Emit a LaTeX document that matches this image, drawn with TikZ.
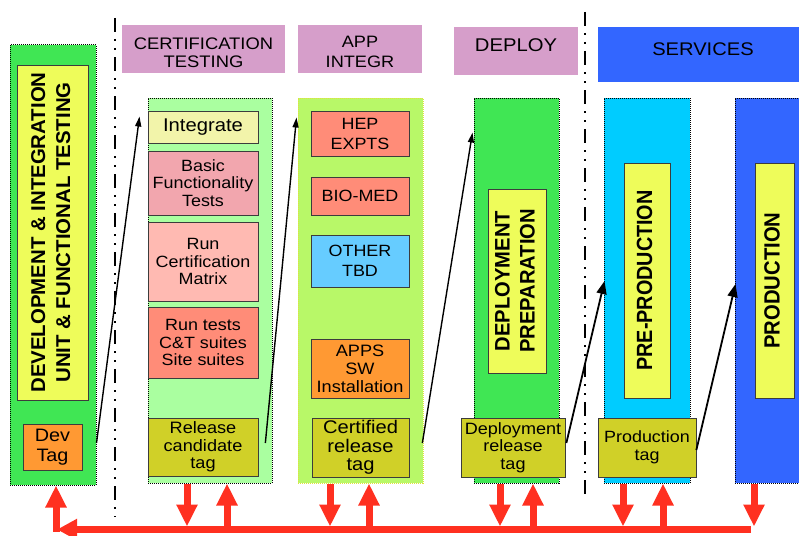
\documentclass[tikz,border=0pt]{standalone}
\usepackage{graphicx}
\usepackage{fontspec}
\setmainfont{Liberation Sans}[FakeStretch=1.1]
\newfontfamily\upfont{Liberation Sans}
\usetikzlibrary{arrows.meta}

\definecolor{devgreen}{RGB}{64,230,84}
\definecolor{paleyellow}{RGB}{238,252,90}
\definecolor{tagorange}{RGB}{255,153,51}
\definecolor{certgreen}{RGB}{170,255,160}
\definecolor{intyellow}{RGB}{242,244,170}
\definecolor{basicpink}{RGB}{242,166,174}
\definecolor{matrixpink}{RGB}{255,186,178}
\definecolor{salmon}{RGB}{255,140,120}
\definecolor{tagolive}{RGB}{208,208,40}
\definecolor{appgreen}{RGB}{184,248,104}
\definecolor{appedge}{RGB}{225,225,60}
\definecolor{otherblue}{RGB}{102,204,255}
\definecolor{hdrpink}{RGB}{214,158,202}
\definecolor{precyan}{RGB}{0,204,255}
\definecolor{prodblue}{RGB}{51,102,255}
\definecolor{busred}{RGB}{255,48,32}
\definecolor{cellline}{RGB}{60,60,60}

% bold upright text for the rotated labels: size, line skip, stretch
\newcommand{\vtext}[4]{\scalebox{#3}[1]{\upfont\bfseries\fontsize{#1}{#2}\selectfont\begin{tabular}{@{}c@{}}#4\end{tabular}}}

\tikzset{
  colbox/.style={draw=black, line width=1pt, densely dotted, inner sep=0pt},
  cell/.style={draw=cellline, line width=0.7pt, inner sep=0pt, align=center},
  hdr/.style={inner sep=0pt},
  hdrtext/.style={inner sep=0pt, align=center},
  fs/.style 2 args={font=\fontsize{#1}{#2}\selectfont},
  thinarr/.style={draw=black, line width=1.4pt, -{Triangle[length=10pt,width=6pt]}},
  thickarr/.style={draw=black, line width=1.8pt, -{Triangle[length=13pt,width=10pt]}},
  redarr/.style={draw=busred, line width=7pt, -{Triangle[length=22pt,width=20pt]}},
  sepline/.style={draw=black, line width=2.6pt, dash pattern=on 14pt off 7pt on 2pt off 7pt on 2pt off 7pt}
}

\begin{document}
\begin{tikzpicture}[x=1pt,y=-1pt]
\useasboundingbox (0,0) rectangle (799,535);
\clip (0,0) rectangle (799,535);

% phase headers
\node[hdr, fill=hdrpink, minimum width=163pt, minimum height=48pt] (certhdr) at (203.5,49) {};
\node[hdrtext, fs={16.7}{18.3}] (certhdrtxt) at (203.5,52.5) {CERTIFICATION\\TESTING};
\node[hdr, fill=hdrpink, minimum width=124pt, minimum height=48pt] (apphdr) at (360,49) {};
\node[hdrtext, fs={16.5}{20}] (apphdrtxt) at (360,52) {APP\\INTEGR};
\node[hdr, fill=hdrpink, minimum width=124pt, minimum height=48pt] (dephdr) at (516,51) {};
\node[hdrtext, fs={18.4}{20}] (dephdrtxt) at (516,45) {DEPLOY};
\node[hdr, fill=prodblue, minimum width=208pt, minimum height=55pt] (svchdr) at (702,54.5) {};
\node[hdrtext, fs={18.3}{20}] (svchdrtxt) at (703,49) {SERVICES};

% separators between phases
\coordinate (s1top) at (115,18);
\coordinate (s1bot) at (115,517);
\coordinate (s2top) at (585,12);
\coordinate (s2bot) at (585,498);
\draw[sepline] (s1top) -- (s1bot);
\draw[sepline] (s2top) -- (s2bot);

% development column
\node[colbox, fill=devgreen, minimum width=86pt, minimum height=440pt] (devcol) at (53,265) {};
\node[cell, fill=paleyellow, rotate=90, minimum width=335pt, minimum height=71pt] (devbox) at (52.5,232.5)
  {\vtext{20}{25}{1.02}{DEVELOPMENT \& INTEGRATION\\UNIT \& FUNCTIONAL TESTING}};
\node[cell, fill=tagorange, fs={18}{20}, minimum width=59pt, minimum height=46pt] (devtag) at (52.5,447) {Dev\\Tag};

% certification column
\node[colbox, fill=certgreen, minimum width=124pt, minimum height=385pt] (certcol) at (210,290.5) {};
\node[cell, fill=intyellow, fs={18.4}{20}, minimum width=110pt, minimum height=32pt] (integrate) at (203,127) {Integrate};
\node[cell, fill=basicpink, fs={16.3}{17.5}, minimum width=110pt, minimum height=64pt] (basic) at (203,183) {Basic\\Functionality\\Tests};
\node[cell, fill=matrixpink, fs={16.3}{17.5}, minimum width=110pt, minimum height=79pt] (matrix) at (203,261.5) {Run\\Certification\\Matrix};
\node[cell, fill=salmon, fs={16.3}{17.5}, minimum width=110pt, minimum height=71pt] (runtests) at (203,342.5) {Run tests\\C\&T suites\\Site suites};
\node[cell, fill=tagolive, fs={16.5}{17.5}, minimum width=110pt, minimum height=58pt] (relcand) at (203,447) {Release\\candidate\\tag};

% application integration column
\node[colbox, draw=appedge, fill=appgreen, minimum width=125pt, minimum height=385pt] (appcol) at (360.5,290.5) {};
\node[cell, fill=salmon, fs={16.3}{20}, minimum width=98pt, minimum height=45pt] (hep) at (360,133.5) {HEP\\EXPTS};
\node[cell, fill=salmon, fs={16.3}{20}, minimum width=98pt, minimum height=38pt] (biomed) at (360,196) {BIO-MED};
\node[cell, fill=otherblue, fs={16.3}{20}, minimum width=98pt, minimum height=52pt] (other) at (360,261) {OTHER\\TBD};
\node[cell, fill=tagorange, fs={16.5}{18}, minimum width=98pt, minimum height=59pt] (appsw) at (360,368.5) {APPS\\SW\\Installation};
\node[cell, fill=tagolive, fs={18.3}{18.7}, minimum width=97pt, minimum height=59pt] (certrel) at (360.5,447.5) {Certified\\release\\tag};

% deployment column
\node[colbox, fill=devgreen, minimum width=85pt, minimum height=385pt] (depcol) at (516.5,290.5) {};
\node[cell, fill=paleyellow, rotate=90, minimum width=184pt, minimum height=58pt] (depprep) at (517,281)
  {\vtext{21}{25}{0.96}{DEPLOYMENT\\PREPARATION}};
\node[cell, fill=tagolive, fs={16.4}{17.5}, minimum width=104pt, minimum height=59pt] (deprel) at (513,447.5) {Deployment\\release\\tag};

% pre-production column
\node[colbox, fill=precyan, minimum width=86pt, minimum height=385pt] (precol) at (647,290.5) {};
\node[cell, fill=paleyellow, rotate=90, minimum width=235pt, minimum height=46pt] (prebox) at (647,280.5)
  {\vtext{22}{25}{0.9}{PRE-PRODUCTION}};
\node[cell, fill=tagolive, fs={16.3}{18.3}, minimum width=98pt, minimum height=59pt] (prodtag) at (647,447.5) {Production\\tag};

% production column
\node[colbox, fill=prodblue, minimum width=71pt, minimum height=385pt] (prodcol) at (770.5,290.5) {};
\node[cell, fill=paleyellow, rotate=90, minimum width=235pt, minimum height=39pt] (prodbox) at (774.5,280.5)
  {\vtext{22}{25}{0.92}{PRODUCTION}};

% promotion arrows from one phase to the next
\draw[thinarr] ([yshift=-178pt]devcol.east) -- ([xshift=-8pt,yshift=-19pt]certcol.north west);
\draw[thinarr] ([xshift=7pt,yshift=4pt]relcand.east) -- ([xshift=-1pt,yshift=-20pt]appcol.north west);
\draw[thinarr] ([xshift=13pt,yshift=4.5pt]certrel.east) -- ([xshift=-1pt,yshift=-35pt]depcol.north west);
\draw[thickarr] ([xshift=1pt,yshift=4.5pt]deprel.east) -- ([xshift=1pt,yshift=9.5pt]precol.west);
\draw[thickarr] ([yshift=-2.5pt]prodtag.east) -- ([xshift=1pt,yshift=6.5pt]prodcol.west);

% feedback bus along the bottom
\coordinate (busE) at (751,529.5);
\coordinate (busW) at (57,529.5);
\draw[redarr, -{Triangle[length=20pt,width=20pt]}] (busE) -- (busW);

% arrows up from the bus into each column
\draw[redarr] ([xshift=3pt,yshift=-46pt]devcol.south) -- ([xshift=3pt]devcol.south);
\draw[redarr] ([xshift=17pt,yshift=-46pt]certcol.south) -- ([xshift=17pt]certcol.south);
\draw[redarr] ([xshift=8.5pt,yshift=-46pt]appcol.south) -- ([xshift=8.5pt]appcol.south);
\draw[redarr] ([xshift=16.5pt,yshift=-46pt]depcol.south) -- ([xshift=16.5pt]depcol.south);
\draw[redarr] ([xshift=16pt,yshift=-46pt]precol.south) -- ([xshift=16pt]precol.south);

% arrows down from each column onto the bus
\draw[redarr] ([xshift=-23pt]certcol.south) -- ++(0,43);
\draw[redarr] ([xshift=-30.5pt]appcol.south) -- ++(0,43);
\draw[redarr] ([xshift=-16.5pt]depcol.south) -- ++(0,43);
\draw[redarr] ([xshift=-24pt]precol.south) -- ++(0,43);
\draw[redarr] ([xshift=-16.5pt]prodcol.south) -- ++(0,43);
\end{tikzpicture}
\end{document}
